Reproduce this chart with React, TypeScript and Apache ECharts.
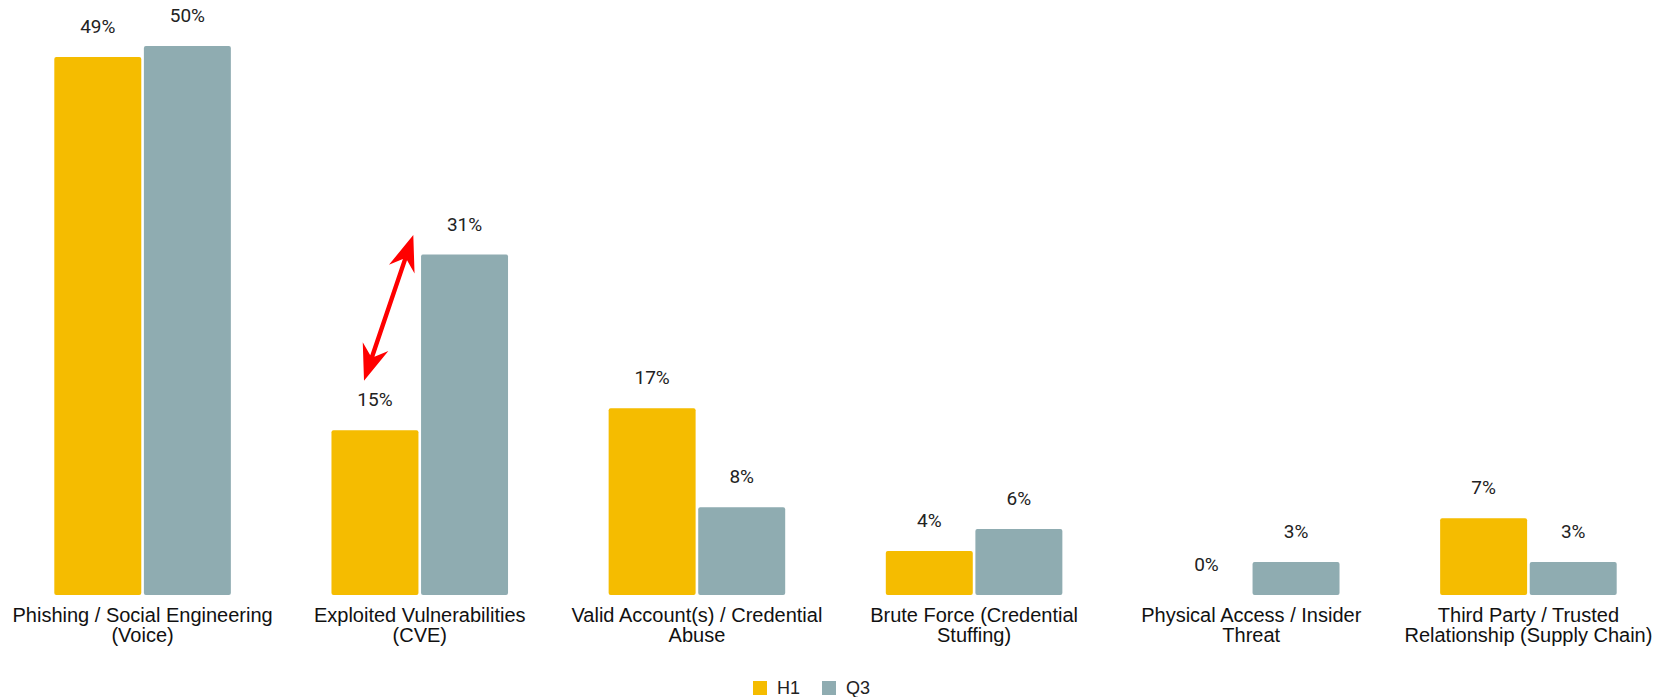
import React, { useEffect, useRef } from 'react';
import * as echarts from 'echarts';

const categories = [
  'Phishing / Social Engineering\n(Voice)',
  'Exploited Vulnerabilities\n(CVE)',
  'Valid Account(s) / Credential\nAbuse',
  'Brute Force (Credential\nStuffing)',
  'Physical Access / Insider\nThreat',
  'Third Party / Trusted\nRelationship (Supply Chain)',
];
const seriesNames = ['H1', 'Q3'];
const h1Values = [49, 15, 17, 4, 0, 7];
const q3Values = [50, 31, 8, 6, 3, 3];
const colors = ['#F5BC00', '#8FACB1'];

function arrowPoints(x1: number, y1: number, x2: number, y2: number) {
  const headLen = 36;
  const headHalf = 13.5;
  const neck = 26;
  const shaft = 2.2;
  const dx = x2 - x1;
  const dy = y2 - y1;
  const L = Math.sqrt(dx * dx + dy * dy);
  const ux = dx / L;
  const uy = dy / L;
  const nx = -uy;
  const ny = ux;
  const p = (s: number, t: number) => [x1 + ux * s + nx * t, y1 + uy * s + ny * t];
  return [
    p(0, 0),
    p(headLen, headHalf),
    p(neck, shaft),
    p(L - neck, shaft),
    p(L - headLen, headHalf),
    p(L, 0),
    p(L - headLen, -headHalf),
    p(L - neck, -shaft),
    p(neck, -shaft),
    p(headLen, -headHalf),
  ];
}

export default function App() {
  const ref = useRef<HTMLDivElement>(null);
  useEffect(() => {
    if (!ref.current) return;
    const chart = echarts.init(ref.current, null, { renderer: 'svg' });
    const labelStyle = {
      show: true,
      position: 'top' as const,
      distance: 21,
      formatter: '{c}%',
      fontFamily: 'Roboto',
      fontSize: 19,
      color: '#222222',
    };
    chart.setOption({
      animation: false,
      backgroundColor: '#ffffff',
      grid: { left: 4, width: 1665, top: 46, bottom: 102, containLabel: false },
      legend: {
        data: seriesNames,
        left: 753,
        top: 679,
        padding: 0,
        itemWidth: 14,
        itemHeight: 14,
        itemGap: 22,
        icon: 'rect',
        textStyle: {
          fontFamily: 'Liberation Sans',
          fontSize: 18,
          lineHeight: 14,
          color: '#222222',
          padding: [0, 0, 0, 5],
        },
      },
      xAxis: {
        type: 'category',
        data: categories,
        axisLine: { show: false },
        axisTick: { show: false },
        axisLabel: {
          interval: 0,
          margin: 10,
          fontFamily: 'Liberation Sans',
          fontSize: 20,
          lineHeight: 20,
          color: '#111111',
          align: 'center',
        },
      },
      yAxis: {
        type: 'value',
        min: 0,
        max: 50,
        show: false,
        splitLine: { show: false },
      },
      series: [
        {
          name: seriesNames[0],
          type: 'bar',
          data: h1Values,
          itemStyle: { color: colors[0], borderRadius: 2 },
          barGap: '3%',
          barCategoryGap: '36.3%',
          label: labelStyle,
        },
        {
          name: seriesNames[1],
          type: 'bar',
          data: q3Values,
          itemStyle: { color: colors[1], borderRadius: 2 },
          barGap: '3%',
          barCategoryGap: '36.3%',
          label: labelStyle,
        },
      ],
      graphic: [
        {
          type: 'polygon',
          shape: { points: arrowPoints(413.3, 235, 364, 380.7) },
          style: { fill: '#FF0000' },
          z: 100,
        },
      ],
    });
    return () => chart.dispose();
  }, []);
  return (
    <div
      ref={ref}
      style={{ position: 'fixed', left: 0, top: 0, width: 1667, height: 697 }}
    />
  );
}
